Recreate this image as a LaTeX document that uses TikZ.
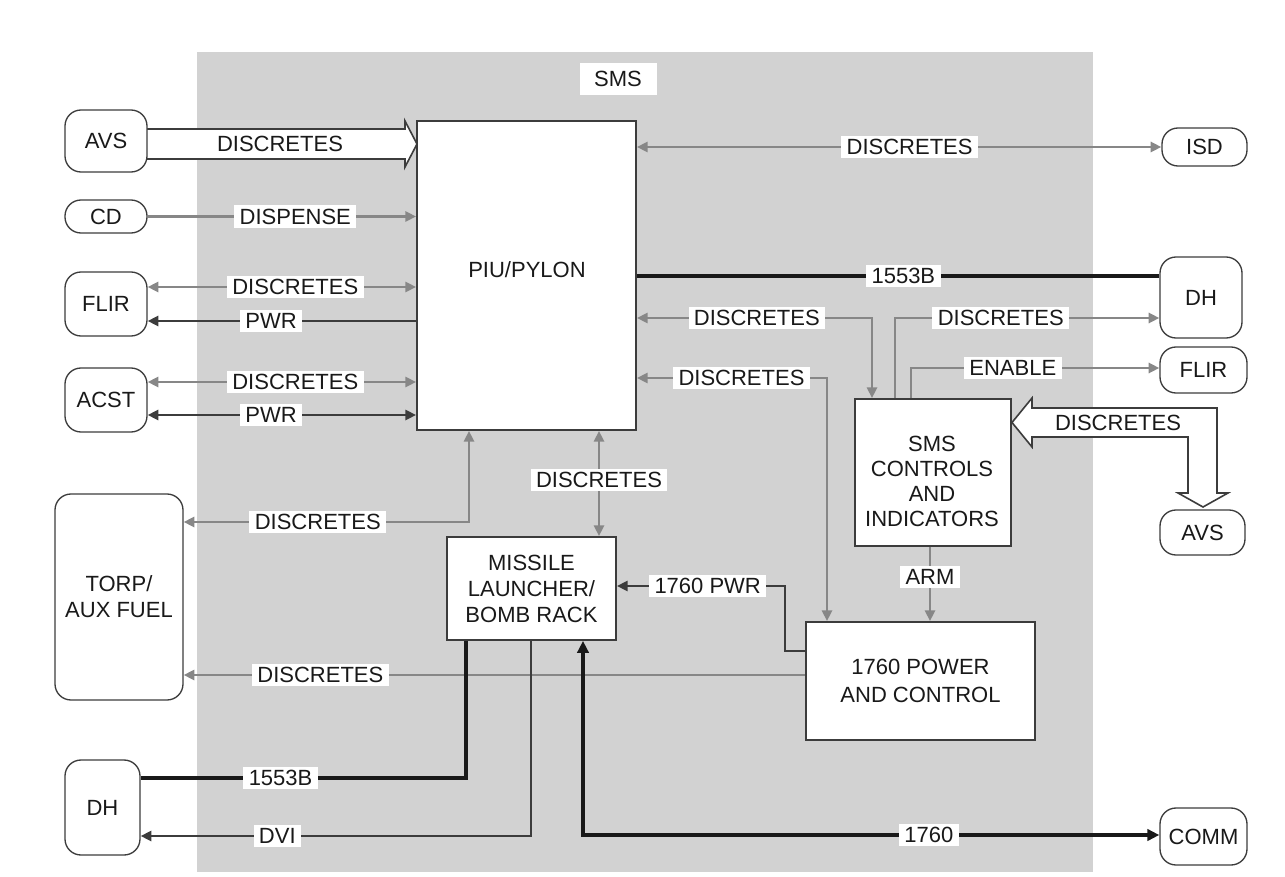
\documentclass[tikz,border=0pt]{standalone}
\usepackage{fontspec}
\setmainfont{Liberation Sans}
\usetikzlibrary{arrows.meta,calc}
\definecolor{bgray}{RGB}{210,210,210}
\definecolor{lgray}{RGB}{135,135,135}
\definecolor{dgray}{RGB}{60,60,60}
\definecolor{ink}{RGB}{25,25,25}
\newcommand\lfont{\fontsize{16.5}{19.5}\selectfont}
\begin{document}
\begin{tikzpicture}[x=0.75pt,y=-0.75pt,
  font=\lfont, text=ink,
  sz/.style 2 args={minimum width=#1*0.75pt,minimum height=#2*0.75pt},
  ext/.style={draw=dgray,line width=1pt,rounded corners=12pt,fill=white,inner sep=0pt,align=center},
  blk/.style={draw=dgray,line width=1.4pt,fill=white,inner sep=0pt,align=center},
  txt/.style={inner sep=0pt,align=center},
  lbl/.style={fill=white,inner xsep=4pt,inner ysep=2.5pt,text=ink},
  gline/.style={draw=lgray,line width=2.1pt},
  dline/.style={draw=dgray,line width=2.1pt},
  bline/.style={draw=ink,line width=3pt},
  hollow/.style={draw=dgray,line width=1.2pt,fill=white,line join=miter},
  >={Triangle[length=8pt,width=7.5pt]},
]
\useasboundingbox[fill=white] (0,0) rectangle (1285,877);
% SMS background
\fill[bgray] (197,52) rectangle (1093,872);
\node[lbl,inner xsep=11pt,inner ysep=6pt] (smst) at (618,79) {SMS};

% hollow arrows (shapes)
\path[hollow] (140,129) -- (405,129) -- (405,121) -- (417,144) -- (405,167) -- (405,159) -- (140,159);
\path[hollow] (1012,422.5) -- (1032,398) -- (1032,408) -- (1217,408) -- (1217,493) -- (1228,493)
   -- (1203,507) -- (1178,493) -- (1188,493) -- (1188,437) -- (1032,437) -- (1032,447) -- cycle;

% external units
\node[ext,sz={82}{62}] (avsL) at (106,141) {AVS};
\node[ext,sz={82}{33}] (cd) at (106,216.5) {CD};
\node[ext,sz={82}{64}] (flirL) at (106,304) {FLIR};
\node[ext,sz={82}{64}] (acst) at (106,400) {ACST};
\node[ext,sz={128}{206}] (torp) at (119,597) {TORP/\\AUX FUEL};
\node[ext,sz={75}{95}] (dhL) at (102.5,807.5) {DH};
\node[ext,sz={85}{38}] (isd) at (1204.5,147) {ISD};
\node[ext,sz={82}{81}] (dhR) at (1201,297.5) {DH};
\node[ext,sz={87}{46}] (flirR) at (1203.5,370) {FLIR};
\node[ext,sz={85}{45}] (avsR) at (1202.5,532.5) {AVS};
\node[ext,sz={87}{57}] (comm) at (1203.5,836.5) {COMM};

% internal blocks
\node[blk,sz={219}{309}] (piu) at (526.5,275.5) {};
\node[txt] (piuT) at (527,270) {PIU/PYLON};
\node[blk,sz={156}{147}] (smsc) at (933,472.5) {};
\node[txt,font=\fontsize{16.5}{18.75}\selectfont] (smscT) at (932,481) {SMS\\CONTROLS\\AND\\INDICATORS};
\node[blk,sz={169}{103}] (ml) at (531.5,588.5) {MISSILE\\LAUNCHER/\\BOMB RACK};
\node[blk,sz={229}{118},font=\fontsize{16.5}{21.5}\selectfont] (pwr) at (920.5,681) {1760 POWER\\AND CONTROL};

% labels in hollow arrows
\node (lavs) at (280,144) {DISCRETES};
\node (ravs) at (1118,423) {DISCRETES};

% left side connectors
\draw[gline,->] (cd.east) -- (cd.east -| piu.west) node[lbl,pos=.55]{DISPENSE};
\draw[gline,<->] (flirL.east |- 0,287) -- (piu.west |- 0,287) node[lbl,pos=.55]{DISCRETES};
\draw[dline,<-] (flirL.east |- 0,321) -- (piu.west |- 0,321) node[lbl,pos=.46]{PWR};
\draw[gline,<->] (acst.east |- 0,382) -- (piu.west |- 0,382) node[lbl,pos=.55]{DISCRETES};
\draw[dline,<->] (acst.east |- 0,415) -- (piu.west |- 0,415) node[lbl,pos=.46]{PWR};

% right side connectors
\draw[gline,<->] (piu.east |- isd.west) -- (isd.west) node[lbl,pos=.52]{DISCRETES};
\draw[bline] (piu.east |- 0,276) -- (dhR.west |- 0,276) node[lbl,pos=.51]{1553B};
\draw[gline,<->] (piu.east |- 0,318) -- node[lbl,pos=.51]{DISCRETES} (872,318) -- (smsc.north -| 872,0);
\draw[gline,<->] (piu.east |- 0,378) -- node[lbl,pos=.55]{DISCRETES} (827,378) -- (pwr.north -| 827,0);
\draw[gline,->] (smsc.north -| 895,0) -- (895,318) -- node[lbl,pos=.40]{DISCRETES} (dhR.west |- 0,318);
\draw[gline,->] (smsc.north -| 911,0) -- (911,368) -- node[lbl,pos=.41]{ENABLE} (flirR.west |- 0,368);

% lower connectors
\draw[gline,<->] (piu.south -| 599,0) -- (ml.north -| 599,0) node[lbl,pos=.47]{DISCRETES};
\draw[gline,<->] (piu.south -| 469,0) -- (469,522) -- node[lbl,pos=.53]{DISCRETES} (torp.east |- 0,522);
\draw[dline,->] (pwr.west |- 0,651) -- (785,651) -- (785,586) -- node[lbl,pos=.46]{1760 PWR} (ml.east |- 0,586);
\draw[gline,->] (pwr.west |- 0,675) -- node[lbl,pos=.78]{DISCRETES} (torp.east |- 0,675);
\draw[gline,->] (smsc.south -| 930,0) -- (pwr.north -| 930,0) node[lbl,pos=.41]{ARM};
\draw[bline] (ml.south -| 466,0) -- (466,778) -- node[lbl,pos=.57]{1553B} (dhL.east |- 0,778);
\draw[dline,->] (ml.south -| 531,0) -- (531,836) -- node[lbl,pos=.65]{DVI} (dhL.east |- 0,836);
\draw[bline,<->,>={Triangle[length=9pt,width=8.5pt]}] (ml.south -| 583,0) -- (583,835) -- node[lbl,pos=.60]{1760} (comm.west |- 0,835);
\end{tikzpicture}
\end{document}
